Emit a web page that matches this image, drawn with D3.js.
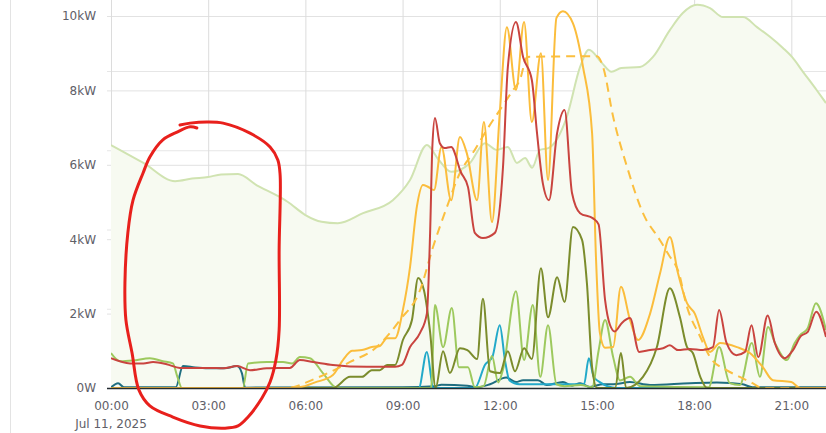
<!DOCTYPE html>
<html>
<head>
<meta charset="utf-8">
<script src="https://cdn.jsdelivr.net/npm/d3@7"></script>
<style>
  html, body { margin: 0; padding: 0; background: #fff; }
  svg { display: block; }
  text { font-family: "DejaVu Sans", sans-serif; }
</style>
</head>
<body>
<svg id="chart" width="826" height="433"></svg>
<script>
// ---- data (time in hours since 00:00 on Jul 11, 2025; values in kW) ----
const yTicksKW = [0, 2, 4, 6, 8, 10];
const dateLabel = "Jul 11, 2025";

const houseLoad = [[0,6.53],[1,6.05],[1.98,5.56],[2.5,5.63],[3.0,5.67],[3.4,5.74],[3.92,5.75],[4.5,5.45],[5.22,5.13],[5.46,5.0],[6.0,4.65],[6.5,4.47],[7.0,4.43],[7.78,4.70],[8.7,5.05],[9.23,5.59],[9.75,6.53],[10.1,6.15],[10.5,5.81],[11.08,6.05],[11.54,6.58],[11.9,6.40],[12.25,6.48],[12.53,6.05],[12.78,6.18],[13.0,5.92],[13.24,6.40],[13.5,6.45],[14.07,7.29],[14.48,8.63],[14.75,9.09],[15.15,8.74],[15.45,8.50],[15.75,8.60],[16.33,8.63],[16.73,8.90],[17.25,9.62],[17.65,10.08],[18.09,10.30],[18.49,10.21],[18.89,9.97],[19.51,9.97],[19.94,9.70],[20.34,9.44],[20.74,9.14],[21.02,8.90],[21.36,8.50],[21.78,8.01],[22.07,7.66]];

const solar = [[0,0],[5.5,0],[5.83,0.02],[6.3,0.15],[6.85,0.35],[7.16,0.75],[7.44,1.0],[7.75,1.02],[8.05,1.10],[8.3,1.13],[8.52,1.34],[8.77,1.34],[9.01,2.1],[9.23,3.25],[9.44,4.87],[9.63,5.46],[9.78,5.41],[9.97,5.32],[10.2,6.48],[10.5,5.05],[10.77,6.75],[10.98,6.32],[11.3,5.05],[11.51,7.15],[11.76,4.46],[12.0,7.39],[12.22,9.70],[12.5,8.01],[12.75,9.84],[12.99,7.15],[13.27,9.0],[13.49,5.59],[13.75,9.95],[13.95,10.13],[14.26,9.8],[14.57,8.63],[14.85,6.85],[14.97,3.5],[15.09,1.48],[15.25,1.08],[15.5,1.10],[15.74,2.72],[16.02,1.83],[16.27,1.29],[16.64,2.0],[16.95,3.09],[17.25,4.06],[17.5,3.09],[17.78,2.28],[18.02,2.0],[18.27,1.37],[18.49,0.97],[18.8,1.21],[19.32,1.10],[19.72,0.94],[20.12,0.56],[20.43,0.21],[21.0,0.16],[21.27,0],[22.07,0]];

const solarForecast = [[0,0],[5.4,0],[6.35,0.27],[7.38,0.70],[8.2,1.1],[8.61,1.48],[8.92,1.83],[9.54,2.63],[9.94,3.79],[10.37,4.87],[10.77,5.78],[11.17,6.32],[11.6,6.94],[12.0,7.47],[12.41,8.01],[12.62,8.28],[12.85,8.9],[15.0,8.92],[15.19,8.63],[15.5,7.29],[15.93,5.94],[16.42,4.70],[16.94,3.98],[17.2,3.6],[17.56,3.0],[17.72,2.37],[18.19,1.37],[18.49,0.83],[19.0,0.48],[19.41,0.30],[19.8,0.13],[20.1,0],[22.07,0]];

const gridImport = [[0,0.80],[0.59,0.66],[1.0,0.66],[1.3,0.70],[1.72,0.64],[2.13,0.54],[3.05,0.54],[3.46,0.53],[3.89,0.59],[4.29,0.48],[4.81,0.53],[5.52,0.54],[5.83,0.75],[6.24,0.70],[6.85,0.62],[7.9,0.57],[8.77,0.57],[8.98,0.62],[9.23,1.10],[9.54,1.48],[9.75,2.0],[9.85,4.17],[9.92,6.5],[10.0,7.26],[10.15,6.58],[10.3,6.45],[10.5,6.48],[10.8,5.8],[11.02,5.40],[11.23,4.17],[11.48,4.03],[11.85,4.17],[12.1,5.94],[12.25,8.63],[12.5,9.84],[12.72,8.9],[12.99,8.28],[13.15,6.85],[13.33,5.5],[13.52,5.05],[13.77,6.85],[14.0,7.47],[14.23,5.24],[14.48,4.7],[14.88,4.56],[15.05,4.4],[15.25,2.37],[15.4,1.7],[15.55,1.52],[15.77,1.75],[16.02,1.88],[16.3,0.97],[16.64,1.02],[17.04,1.07],[17.25,1.15],[17.5,1.02],[17.87,1.05],[18.27,1.02],[18.58,1.10],[18.77,2.10],[19.0,1.21],[19.3,0.88],[19.57,0.97],[19.77,1.69],[19.98,0.83],[20.27,1.95],[20.49,1.21],[20.8,0.8],[21.05,1.02],[21.3,1.40],[21.5,1.5],[21.77,2.05],[22.07,1.37]];

const batteryCharge = [[0,0],[6.85,0],[7.38,0.3],[7.75,0.3],[8.05,0.48],[8.3,0.48],[8.52,0.62],[8.77,0.62],[9.01,1.29],[9.29,1.83],[9.48,2.96],[9.66,2.63],[9.85,1.5],[10.02,0],[10.25,0.99],[10.46,0.4],[10.77,1.07],[11.0,1.02],[11.3,0.78],[11.48,2.4],[11.7,0.45],[12.0,0.4],[12.25,0.99],[12.47,0.45],[12.75,1.07],[12.99,0.78],[13.27,3.22],[13.49,1.9],[13.77,2.98],[14.0,2.31],[14.26,4.33],[14.54,3.98],[14.69,2.82],[14.85,0.56],[15.0,0],[15.56,0],[15.74,0.94],[15.9,0],[16.42,0.3],[16.85,1.10],[17.25,2.68],[17.56,1.91],[17.78,1.10],[17.96,0.94],[18.19,0.3],[18.4,0],[22.07,0]];

const batteryDischarge = [[0,0.94],[0.28,0.72],[0.68,0.74],[1.2,0.80],[1.6,0.72],[1.91,0.66],[2.05,0.3],[2.19,0],[4.07,0],[4.23,0.66],[4.81,0.70],[5.31,0.70],[5.59,0.66],[5.83,0.83],[6.14,0.80],[6.54,0.40],[6.98,0],[9.88,0],[10.0,2.23],[10.25,1.10],[10.52,2.15],[10.74,0.56],[11.02,0.56],[11.23,0.02],[11.5,0.05],[11.76,0.86],[11.95,0.15],[12.1,0.5],[12.5,2.6],[12.75,0.75],[13.02,2.23],[13.25,0.3],[13.49,1.69],[13.75,0.1],[14.0,0.05],[14.5,0.08],[14.85,0.02],[15.05,1.0],[15.25,1.83],[15.5,0.83],[15.71,0.2],[16.02,0.3],[16.33,0.05],[18.45,0.02],[18.77,1.10],[19.1,0.13],[19.41,0.08],[19.78,1.21],[20.03,0.3],[20.28,1.64],[20.5,1.2],[20.86,0.75],[21.1,1.2],[21.27,1.42],[21.5,1.6],[21.76,2.28],[22.07,1.56]];

const gridExport = [[0,0],[9.5,0],[9.75,0.97],[9.95,0],[11.23,0],[11.55,0.63],[11.77,0.83],[12.0,1.69],[12.16,0.75],[12.3,0.2],[12.6,0.1],[14.6,0.1],[14.75,0.8],[14.9,0.3],[15.1,0.15],[15.6,0],[22.07,0]];

const evCharger = [[0,0.02],[0.22,0.13],[0.4,0.02],[2.0,0.02],[2.22,0.59],[2.6,0.55],[3.0,0.53],[3.5,0.53],[3.89,0.59],[4.04,0.4],[4.14,0.01],[9.0,0.02],[10.0,0.05],[10.2,0.09],[11.0,0.06],[11.3,0.02],[11.7,0.1],[12.2,0.28],[12.5,0.16],[12.72,0.21],[13.18,0.21],[13.45,0.08],[13.95,0.16],[14.23,0.06],[14.48,0.13],[14.78,0.03],[15.19,0.1],[15.5,0.1],[16.02,0.16],[16.64,0.08],[17.87,0.13],[18.7,0.15],[19.5,0.1],[19.8,0.02],[22.07,0.02]];

// hand-drawn annotation loop, in the same (hour, kW) units
const annotation = [[2.13,7.07],[2.44,7.12],[2.96,7.15],[3.46,7.12],[4.29,6.85],[4.91,6.48],[5.15,6.13],[5.22,5.73],[5.19,3.71],[5.19,1.56],[5.09,0.75],[4.91,0.16],[4.66,-0.27],[4.23,-0.78],[3.92,-1.02],[3.52,-1.08],[2.75,-1.02],[1.91,-0.78],[1.20,-0.48],[0.86,-0.05],[0.65,0.94],[0.46,1.83],[0.43,2.82],[0.52,4.17],[0.68,5.05],[0.99,5.78],[1.20,6.21],[1.60,6.67],[2.04,6.88],[2.44,7.02],[2.65,6.99]];

// ---- chart ----
const svg = d3.select("#chart");
const W = 826, H = 433;
const padLeft = 111, padRight = 826, baseY = 388;
const day0 = new Date(2025, 6, 11, 0, 0, 0);
const toDate = h => new Date(day0.getTime() + h * 3600000);
const endHours = 22.07;

const x = d3.scaleTime().domain([day0, toDate(endHours)]).range([padLeft, padRight]);
const y = d3.scaleLinear().domain([0, 10]).range([baseY, 16]);
const y2 = d3.scaleLinear().domain([0, 100]).range([baseY, 71]);

// outer frame line
svg.append("line").attr("x1", 10.5).attr("x2", 10.5).attr("y1", 0).attr("y2", H)
  .attr("stroke", "#e3e3e3").attr("stroke-width", 1);

// secondary horizontal grid
const g2 = svg.append("g").attr("transform", `translate(${padLeft},0)`)
  .call(d3.axisLeft(y2).tickValues([25, 50, 75, 100]).tickSize(0).tickFormat(""));
g2.select(".domain").remove();
g2.selectAll(".tick line").attr("x1", -4).attr("x2", padRight - padLeft).attr("stroke", "#e6e6e6");

// primary horizontal grid + labels
const gy = svg.append("g").attr("transform", `translate(${padLeft},0)`)
  .call(d3.axisLeft(y).tickValues(yTicksKW).tickSize(0)
    .tickFormat(d => d === 0 ? "0W" : d + "kW"));
gy.select(".domain").remove();
gy.selectAll(".tick line").attr("x1", -4).attr("x2", padRight - padLeft).attr("stroke", "#e2e2e2");
gy.selectAll(".tick text").attr("x", -15).attr("fill", "#5f6068").attr("font-size", 12)
  .attr("font-family", "DejaVu Sans, sans-serif");

// vertical grid + x labels
const xTicks = d3.timeHour.every(3).range(day0, toDate(endHours));
const gx = svg.append("g").attr("transform", `translate(0,${baseY})`)
  .call(d3.axisBottom(x).tickValues(xTicks).tickSize(0).tickFormat(d3.timeFormat("%H:%M")));
gx.select(".domain").remove();
gx.selectAll(".tick line").attr("y1", -baseY).attr("y2", 0).attr("stroke", "#dcdcdc");
gx.selectAll(".tick text").attr("y", 13).attr("dy", "0.71em").attr("fill", "#5f6068")
  .attr("font-size", 12).attr("font-family", "DejaVu Sans, sans-serif");
svg.append("text").attr("x", x(day0)).attr("y", baseY + 40).attr("text-anchor", "middle")
  .attr("fill", "#5f6068").attr("font-size", 12).attr("font-family", "DejaVu Sans, sans-serif")
  .text(dateLabel);

// clip for series
svg.append("clipPath").attr("id", "plot").append("rect")
  .attr("x", padLeft).attr("y", 0).attr("width", padRight - padLeft).attr("height", baseY + 2);

const plot = svg.append("g").attr("clip-path", "url(#plot)");
const curve = d3.curveMonotoneX;
const lineGen = d3.line().x(d => x(toDate(d[0]))).y(d => y(d[1])).curve(curve);
const areaGen = d3.area().x(d => x(toDate(d[0]))).y0(y(0)).y1(d => y(d[1])).curve(curve);

plot.append("path").datum(houseLoad).attr("d", areaGen).attr("fill", "#f7faf1");

// zero axis line
svg.append("line").attr("x1", padLeft - 4).attr("x2", padRight).attr("y1", y(0) + 0.5).attr("y2", y(0) + 0.5)
  .attr("stroke", "#222a30").attr("stroke-width", 1.6);

plot.append("path").datum(houseLoad).attr("d", lineGen)
  .attr("fill", "none").attr("stroke", "#d0e3b1").attr("stroke-width", 2);

const series = [
  { data: evCharger, color: "#1f6e80", dash: null },
  { data: gridExport, color: "#22a9c9", dash: null },
  { data: batteryDischarge, color: "#9dc95e", dash: null },
  { data: batteryCharge, color: "#7b8c2c", dash: null },
  { data: solarForecast, color: "#fbbf3f", dash: "9,6" },
  { data: solar, color: "#fbbd3c", dash: null },
  { data: gridImport, color: "#c9443f", dash: null }
];
series.forEach(s => {
  plot.append("path").datum(s.data).attr("d", lineGen)
    .attr("fill", "none").attr("stroke", s.color).attr("stroke-width", 2)
    .attr("stroke-dasharray", s.dash).attr("stroke-linejoin", "round");
});

// hand-drawn red annotation
const annGen = d3.line().x(d => x(toDate(d[0]))).y(d => y(d[1])).curve(d3.curveCatmullRom.alpha(0.5));
svg.append("path").datum(annotation).attr("d", annGen)
  .attr("fill", "none").attr("stroke", "#e8201c").attr("stroke-width", 3)
  .attr("stroke-linecap", "round").attr("stroke-linejoin", "round");
</script>
</body>
</html>
